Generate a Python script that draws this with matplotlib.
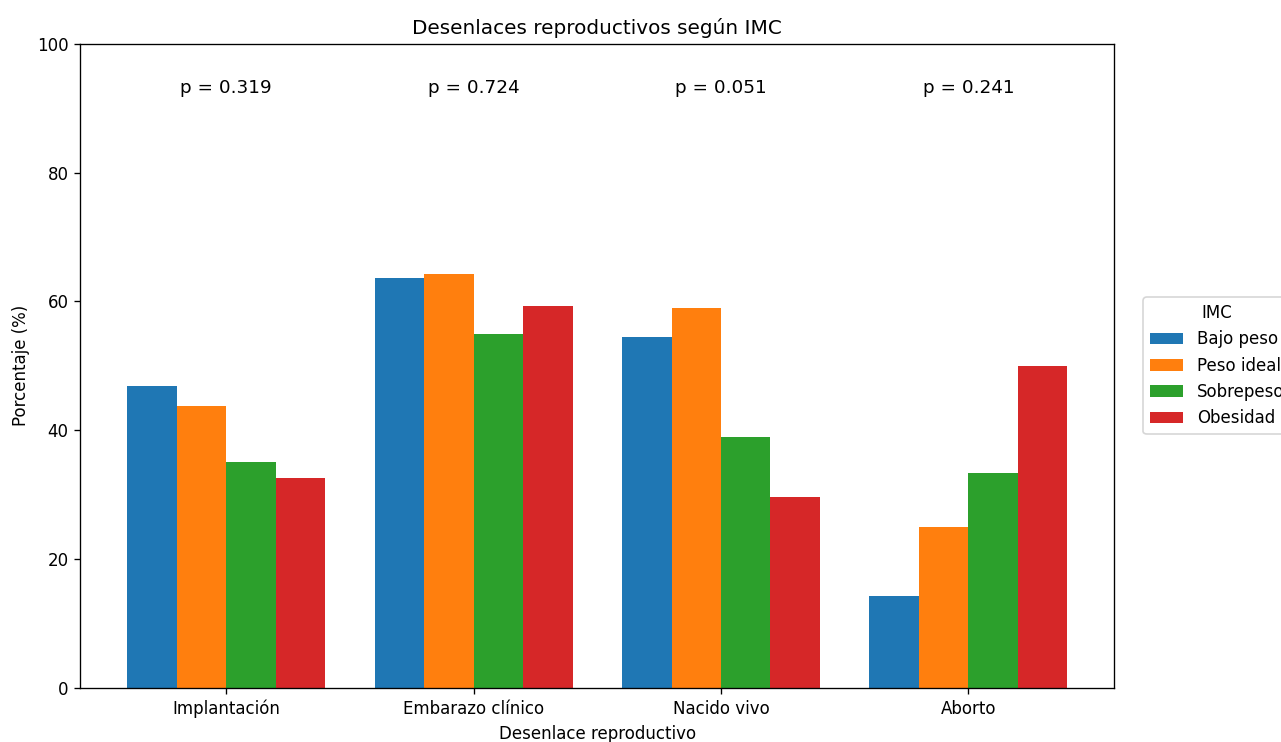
import matplotlib
matplotlib.use("Agg")
import matplotlib.pyplot as plt
import numpy as np

desenlaces = ["Implantación", "Embarazo clínico", "Nacido vivo", "Aborto"]
grupos_imc = ["Bajo peso", "Peso ideal", "Sobrepeso", "Obesidad"]
bajo_peso = [46.9, 63.6, 54.5, 14.3]
peso_ideal = [43.8, 64.3, 58.9, 25.0]
sobrepeso = [35.0, 54.9, 39.0, 33.3]
obesidad = [32.6, 59.3, 29.6, 50.0]
p_valores = ["0.319", "0.724", "0.051", "0.241"]

series = [bajo_peso, peso_ideal, sobrepeso, obesidad]
colores = ["#1f77b4", "#ff7f0e", "#2ca02c", "#d62728"]

fig, ax = plt.subplots(figsize=(1281 / 120, 742 / 120), dpi=120)
fig.subplots_adjust(left=0.0625, right=0.870, top=0.941, bottom=0.073)

x = np.arange(len(desenlaces))
ancho = 0.2
for i, (vals, nombre) in enumerate(zip(series, grupos_imc)):
    ax.bar(x + (i - 1.5) * ancho, vals, ancho, label=nombre, color=colores[i])

# p-valores encima de cada grupo
for xi, p in zip(x, p_valores):
    ax.text(xi, 93.2, "p = " + p, ha="center", va="center", fontsize=11)

ax.set_ylim(0, 100)
ax.set_xticks(x)
ax.set_xticklabels(desenlaces)
ax.set_xlabel("Desenlace reproductivo")
ax.set_ylabel("Porcentaje (%)")
ax.set_title("Desenlaces reproductivos según IMC", fontsize=12)
ax.legend(title="IMC", loc="center left", bbox_to_anchor=(1.02, 0.5))

plt.savefig("out.png", dpi=120)
